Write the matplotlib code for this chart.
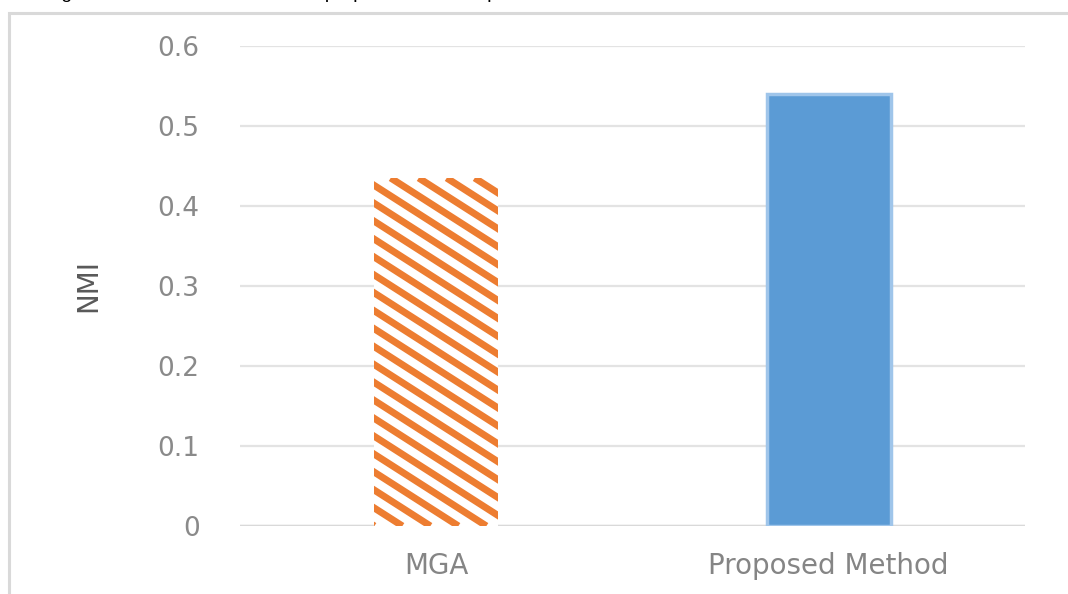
import matplotlib.pyplot as plt
from matplotlib.patches import Rectangle

categories = ["MGA", "Proposed Method"]
nmi_values = [0.435, 0.54]
y_ticks = [0, 0.1, 0.2, 0.3, 0.4, 0.5, 0.6]
y_tick_labels = ["0", "0.1", "0.2", "0.3", "0.4", "0.5", "0.6"]
caption = "Figure 6. The NMI results of the proposed and compared methods on the Football dataset"

fig = plt.figure(figsize=(10.68, 5.94), dpi=100)
ax = fig.add_axes([240 / 1068, 1 - 526 / 594, 785 / 1068, 480 / 594])

# outer frame of the chart area (cut off on the right and bottom)
fig.patches.append(Rectangle((8.5 / 1068, -0.1), 1.2, 1.1 - 13.5 / 594,
                             transform=fig.transFigure, fill=False,
                             edgecolor="#d9d9d9", linewidth=2.2, zorder=0))

# caption of the page, cut off at the top like in the source
fig.text(45 / 1068, 1 + 1.5 / 594, caption, fontsize=14, color="black",
         family="Liberation Sans", va="baseline", ha="left")

x = range(len(categories))
bars = ax.bar(x, nmi_values, width=0.315, zorder=3)

mga_bar = bars[0]
mga_bar.set_facecolor("white")
mga_bar.set_edgecolor("none")

prop_bar = bars[1]
prop_bar.set_facecolor("#5b9bd5")
prop_bar.set_edgecolor("#9fc5ea")
prop_bar.set_linewidth(2.5)

ax.set_xlim(-0.5, 1.5)
ax.set_ylim(0, 0.6)

# diagonal orange stripes on the MGA bar
fig.canvas.draw()
bb = mga_bar.get_window_extent()
slope = 0.64
step = 28
h = bb.height
inv = ax.transData.inverted()
c = -h / slope - step
while c < bb.width + step:
    p1 = inv.transform((bb.x0 + c, bb.y1))
    p2 = inv.transform((bb.x0 + c + h / slope, bb.y0))
    ln, = ax.plot([p1[0], p2[0]], [p1[1], p2[1]], color="#ed7d31",
                  linewidth=5.0, solid_capstyle="butt", zorder=4)
    ln.set_clip_path(mga_bar)
    c += step

ax.set_yticks(y_ticks)
ax.set_yticklabels(y_tick_labels)
ax.set_xticks(list(x))
ax.set_xticklabels(categories)

for s in ax.spines.values():
    s.set_visible(False)
ax.grid(axis="y", color="#e3e3e3", linewidth=1.6, zorder=0)
ax.set_axisbelow(True)
ax.axhline(0, color="#d9d9d9", linewidth=2.5, zorder=2)

ax.tick_params(axis="y", length=0, labelcolor="#8a8a8a", labelsize=19, pad=29)
ax.tick_params(axis="x", length=0, labelcolor="#858585", labelsize=20, pad=19)

ax.set_ylabel("NMI", fontsize=20, color="#595959")
ax.yaxis.set_label_coords(-0.175, 0.5)

fig.savefig("out.png", dpi=100)
